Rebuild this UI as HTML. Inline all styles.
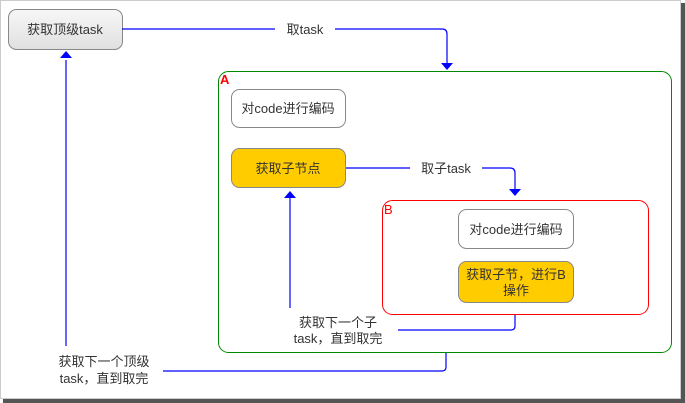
<!DOCTYPE html>
<html><head><meta charset="utf-8"><style>
html,body{margin:0;padding:0;background:#fff;}
svg{display:block;}
text{font-family:"Liberation Sans","Noto Sans CJK SC",sans-serif;font-size:13px;fill:#333;}
</style></head><body>
<svg width="685" height="403" viewBox="0 0 685 403" xmlns="http://www.w3.org/2000/svg">
<defs>
<linearGradient id="g" x1="0" y1="0" x2="0" y2="1"><stop offset="0" stop-color="#f7f7f7"/><stop offset="1" stop-color="#e0e0e0"/></linearGradient>
</defs>
<rect x="0" y="0" width="685" height="403" fill="#fff"/>
<rect x="681" y="3" width="4" height="400" fill="#555"/>
<rect x="3" y="399" width="682" height="4" fill="#555"/>
<rect x="0.5" y="0.5" width="680" height="398" fill="#fff" stroke="#ccc"/>

<rect x="8.5" y="9.5" width="114" height="40" rx="8" fill="url(#g)" stroke="#888"/>
<text x="65" y="34" text-anchor="middle">获取顶级task</text>

<g stroke="#00f" stroke-width="1.2" fill="none">
<path d="M122 29 H275"/>
<path d="M335 29 H442 Q447 29 447 34 V64"/>
<path d="M345 168 H410"/>
<path d="M482 168 H510 Q515 168 515 173 V190"/>
<path d="M290 308 V198"/>
<path d="M398 330 H511 Q515 330 515 326 V314"/>
<path d="M66 346 V60"/>
<path d="M163 371 H442 Q446 371 446 367 V352"/>
</g>
<g fill="#00f">
<polygon points="441,63 453,63 447,70"/>
<polygon points="509,189 521,189 515,196"/>
<polygon points="284,198 296,198 290,191"/>
<polygon points="60,58 72,58 66,51"/>
</g>
<text x="305" y="34" text-anchor="middle">取task</text>
<text x="446" y="173" text-anchor="middle">取子task</text>

<rect x="218.5" y="71.5" width="453" height="281" rx="10" fill="none" stroke="#080"/>
<text x="220" y="84" style="fill:#f00;font-weight:bold;font-size:13px">A</text>

<rect x="231.5" y="89.5" width="114" height="38" rx="8" fill="#fff" stroke="#888"/>
<text x="288" y="113" text-anchor="middle">对code进行编码</text>
<rect x="231.5" y="148.5" width="114" height="39" rx="8" fill="#fc0" stroke="#888"/>
<text x="288" y="173" text-anchor="middle">获取子节点</text>

<rect x="382.5" y="200.5" width="266" height="114" rx="10" fill="none" stroke="#f00"/>
<text x="384" y="214" style="fill:#f00;font-size:13px">B</text>
<rect x="458.5" y="209.5" width="115" height="39" rx="8" fill="#fff" stroke="#888"/>
<text x="516" y="234" text-anchor="middle">对code进行编码</text>
<rect x="458.5" y="261.5" width="115" height="41" rx="8" fill="#fc0" stroke="#888"/>
<text x="516" y="279" text-anchor="middle">获取子节，进行B</text>
<text x="516" y="295" text-anchor="middle">操作</text>

<text x="338" y="327" text-anchor="middle">获取下一个子</text>
<text x="338" y="343" text-anchor="middle">task，直到取完</text>
<text x="104" y="366" text-anchor="middle">获取下一个顶级</text>
<text x="104" y="383" text-anchor="middle">task，直到取完</text>
</svg>
</body></html>
